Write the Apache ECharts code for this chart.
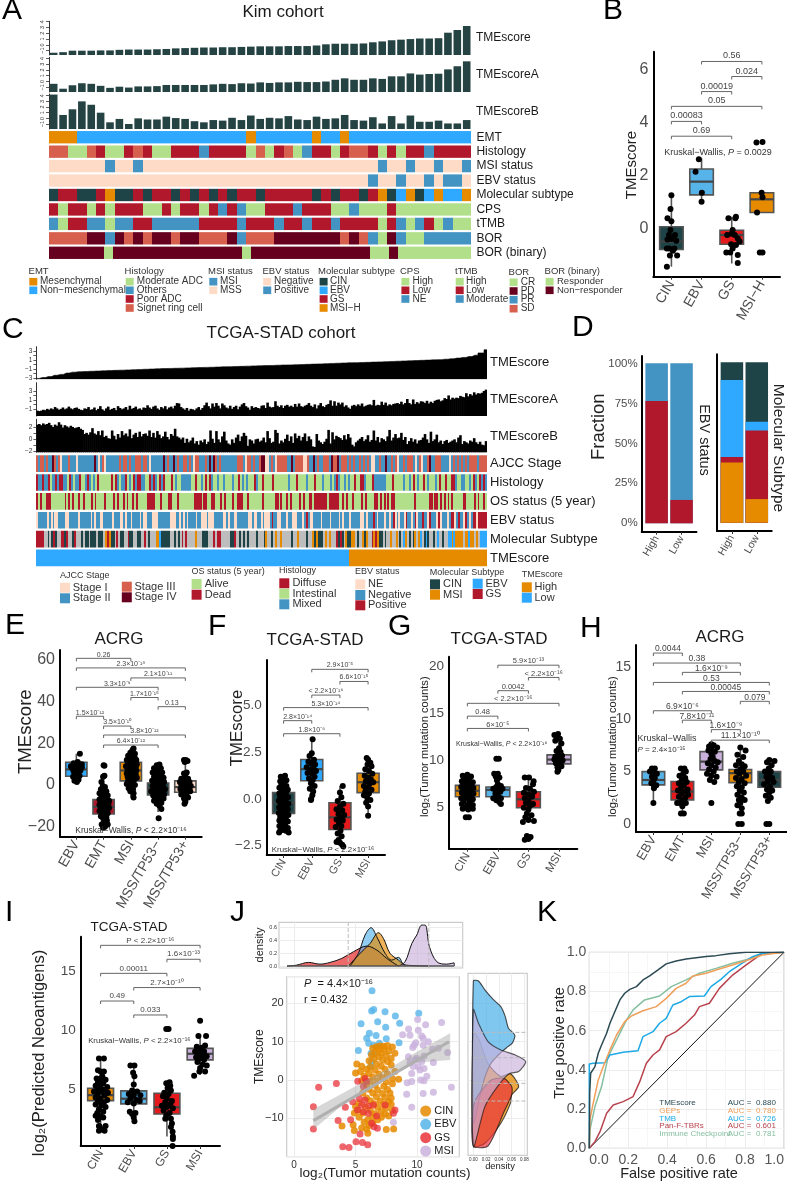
<!DOCTYPE html>
<html><head><meta charset="utf-8"><style>html,body{margin:0;padding:0;background:#fff}#c{width:787px;height:1184px}</style>
<script src="https://cdn.jsdelivr.net/npm/echarts@6/dist/echarts.min.js"></script></head><body><div id="c"></div>
<script>
// ---------- colours
const GREEN='#B2DF8A',RED='#B2182B',BLUE='#4393C3',SALMON='#D6604D',WINE='#67001F',PEACH='#FDDBC7',DARK='#1F4447',SKY='#2EA9FF',ORANGE='#E68A00',GRAY='#BDBDBD',LBLUE='#56B4E9',BRED='#E41A1C',LAV='#C9B1DC';
const FONT='"Liberation Sans",Arial,sans-serif';
// ---------- Panel A data
const kimScore=[-1.35,-1.25,-1,-1,-1,-.95,-.95,-.85,-.8,-.8,-.8,-.75,-.7,-.6,-.55,-.5,-.45,-.45,-.4,-.4,-.35,-.3,-.25,-.25,-.25,-.2,-.2,-.2,-.1,.1,.2,.2,.2,.25,.45,.6,.8,.9,1,1.1,1.1,1.15,2.1,2.56,3.25];
const kimA=[-.4,-1.25,-.65,-.3,-.4,-.75,-1.1,-.9,-1.05,-.85,-.85,-.8,-.6,-.6,-.6,-.6,-.6,-.5,-.4,-.45,-.3,-.35,-.15,-.25,-.15,-.15,-.05,-.1,-.1,0,.3,.55,.3,.3,.55,.45,.9,.9,1.4,1.2,1.3,1.35,2.1,2.65,3.5];
const kimB=[4.2,.6,1.6,3,2.4,1,-.7,-.1,-1,0,-.2,-.2,.3,.05,-.1,-.5,-.7,-.3,-.4,.1,-.3,.5,-.1,.1,0,.4,-.2,-.3,.3,-.1,0,.6,-.3,-.4,.2,-.9,.4,-.9,.5,-.6,-.6,-.4,-.9,-.9,-.3];
const kimEMT='MMMNNNNNNNNNNNNNNNNNNMNNNNNNMNNMNNNNNNNNNNNNN';
const kimHist='SSMMSPMMPSPMMPPPOPPPPMSMPSMOPPMPSSPMPMPPOPPPP';
const kimMSI='SSSSSSISSISSSSSSSSSSSSSSSSSSSSSSSSSISSISSISSI';
const kimEBV='NNNNNNNNNNNNNNNNNNNNNNNNNNNNNNNNNNPNNPNNPNPPN';
const kimMol='CGGCCGMCCGCGGCGCGCGCGGCGGGGGCGCGGCGMCEMCEMEEM';
const kimCPS='LHLLHLHLLLHHLHLLHLNLNHHLLLNLLLHHNHHHLHHHHHHHH';
const kimTMB='MHLLMMHMMLLMMMMMLLLLMLLLMLLMLLMLLLLHLMHMLHMHH';
const kimBOR='SSSSDDPDSDSDDSDDSSSDPSSSDDDDDDDSDSPCDPCCPPPPP';
const kimBin='NNNNNNRNNNNNNNNNNNNNNRNNNNNNNNNNNNNRRNRRRRRRRR';
// ---------- Panel C data
const tcgaScore=[-3.1,-2.9,-2.7,-2.4,-2.2,-1.9,-1.7,-1.6,-1.55,-1.5,-1.45,-1.4,-1.35,-1.3,-1.25,-1.2,-1.15,-1.1,-1.05,-1,-.95,-.9,-.87,-.83,-.8,-.75,-.7,-.67,-.63,-.6,-.55,-.5,-.47,-.43,-.4,-.35,-.3,-.27,-.23,-.2,-.15,-.1,-.07,-.03,0,.05,.1,.15,.2,.25,.3,.35,.4,.43,.47,.5,.55,.6,.65,.7,.75,.8,.85,.9,.95,1,1.05,1.1,1.2,1.3,1.45,1.6,1.8,2.1,2.6,3.3];
const tcgaA=[-1.4,-1.5,-1.4,-1.2,-1.3,-1.0,-1.2,-.9,-1.1,-.6,-.9,-1.2,-1.0,-.7,-1.1,-.9,-.5,-.9,-1.1,-.8,-.7,-1.0,-1.2,-1.3,-.9,-1.0,-.6,-1.2,-1.1,-.7,-1.3,-1.0,-.4,-1.1,-1.4,-.9,-.5,-1.2,-1.0,-.8,-1.3,-.4,-.8,-1.1,-.9,-.6,-1.2,-.3,-1.0,-.8,-.5,-1.1,-.9,-1.2,-.7,-.8,-.2,-.7,-1.0,-.5,-.3,-.9,-1.2,-.6,-.9,-.4,-1.1,-.7,-.5,-.9,-.3,.3,.2,-.6,-.9,-1.2,-.8,-1.4,-1.0,-1.1,-1.3,-.9,-.6,-1.2,-.8,-.2,.4,-.4,-.9,.2,-.5,.3,-.3,-.9,.2,-.2,-.7,-.9,-.3,-1.0,-.6,-.3,-1.1,-.5,0,.3,-.4,-.7,-1.2,-.4,-.8,-.6,-.8,-.9,-.3,-.2,-.8,.4,-.5,-.7,-.6,.7,-.3,-.6,-.2,-.8,-.3,-.1,-.5,-.3,-.6,.1,-.5,.2,-.4,-.6,-.3,-.1,.3,-.3,-.6,0,-.9,-.2,.3,-.4,-.6,-.1,.1,.9,-.3,.7,-.3,.4,0,.4,-.5,-.2,-.7,-1.0,-.3,-.1,-.4,0,-.3,.2,-.5,-.3,-.1,0,-.2,1.0,-.3,-.1,-.2,.6,-.1,.4,-.3,0,-.2,.1,.2,.3,.1,.6,0,.3,1.2,.3,0,1.1,.1,.5,.2,.7,.6,.3,.8,.2,.6,.3,.8,1.0,1.1,.7,.9,1.4,1.2,2.0,1.1,1.5,1.3,1.5,1.4,1.9,1.7,1.6,2.5,1.8,2.3,2.0,2.7,2.2,2.5,2.4,2.6,3.0,3.3];
const tcgaB=[2.5,2.6,2.4,2.7,2.5,2.6,2.8,2.4,2.1,2.5,2.3,2.9,2.5,2.0,2.4,2.2,2.0,2.3,2.1,1.9,2.0,2.1,1.8,1.6,.9,1.1,.8,1.2,1.9,1.0,.8,1.4,.7,1.5,.4,.6,.2,.1,1.5,.6,0,.9,.3,1.4,.7,1.0,.5,1.7,.2,.8,1.1,.4,1.3,.5,.9,1.0,.6,1.5,.4,1.1,.3,1.4,.8,.2,.5,1.3,.4,0,.9,.6,1.8,.5,.3,0,.3,-.6,.1,-.5,-.2,.3,-.7,-.3,-.9,-.2,-.5,0,-.8,-.4,1.5,.1,-.6,1.4,0,-.5,.5,1.3,-.2,-.7,-.9,0,-.6,.3,.8,-.3,.5,1.1,.6,-1.1,0,-.2,-.7,0,.1,-.4,-.2,.3,-.5,1.4,.2,-.6,-.4,1.6,1.1,-.7,-.2,-.5,.1,.8,-.3,.5,-.6,1.0,.2,.6,-.2,.4,1.0,-.3,.5,0,-1.2,-1.3,.9,-.2,-.5,-.8,-.4,.1,1.6,-.7,1.2,0,.6,.4,.2,-.1,.7,0,.9,.3,-.9,-1.2,-.5,-.2,.1,.4,-.3,0,.7,-.4,-.1,1.5,-.2,.4,-.5,.2,0,-.3,.5,1.6,-.2,.3,.9,.2,.3,1.1,-.1,.4,-.8,-.3,.2,-.4,0,-.7,-.2,-.1,.3,.9,0,-.6,1.3,-.3,0,.8,-.5,-.2,-.8,-.3,-.1,-.6,-.4,-.2,0,-.5,.3,.7,-.8,-.3,-.5,-.7,-.2,-.4,.2,-.5,-.8,-.4,-.9,-1.0,-.3];
const tcgaStage='cbccbcbbdcbcabbbcbbbabbbbbbbbdbabcabbbbbbcbccbcbbcccbccbabbbbbbdbcbbdbcbbc'+'cbcbaccbbbcbdbdcbcbbbbbbbbcccbaccbcbbcddaabcbacccccbbdbccccaacbbdbcbbcccbdcc'+'dbcccbcbcbbcbcbcbaabbcbbdbbcbcabbcbcccbabcabbcdbbcccbbbbabcbcbcbcbccccbcccc';
const tcgaHist='DXXDXXDIXDXDDXXIDXIXXDIIXDXIXIDIIIIIIDIDXIXXDIXIDXDDXXIIDXDXIDXDIIIDIXIIXX'+'XXXIIDIIXIDIDXIIXIIXIIIXIIDIXIXIIIDXIIDIIIIDIIIIIIIXIIIDIIIIXIIIDIIIXIIIXIX'+'DXIIXIXIIDIIDDXIIIDXXXXXXIIIDIIIIXIIXIDIXIIDIXIIIXIDIIDIIDDXIIXXIIXIDXIDXDX';
const tcgaOS='ZAZAAZZZAAAAAAAZAZAZAAZAAZAAAZAZAAAAZAAAAZAZAAZAZAAZAZAAAAAZZZZAAAZAAAZZAAAZAAAAA'+'AAAZZZZAZZAAZZAAAZAZAAAZAAZZZAAZAAAAAAAZAAAAAAZZAZAAZAZAAAAZAZAAZZAZZZZZZZAZZZ'+'ZZAAZAZAAZAAAAZAZAAAAZZAZAZAZAZZAAAAAAAAAAZAAAAAAAZZAZZAZAZAZAZAAAAAZZAAAAZAZAAZA';
const tcgaEBV='NGGGGGNGNGNNGGGGNNGGGGGNGGGGGGNGNGGNNGGGGGNGGGNNGNGGNGGGGNGNNGGGNNNGGGGGGGNNNGGNGNGN'+'GGGGNGGNNNGNNNGGGGGNNGNGGNNGGGGGGNNGNNGGNGNNNGPGGNNGGGNGGNNNGGGNGPGNNGGGGNGGGGNGGGGNG'+'NGGGNGGGGGNNGNGGGPGNGGGNGGNGPNGNGGNPGGNGPNGGPGGNPGGGNPNGGGNGPPNGPGGNPGNGPPNPPPPP';
const tcgaMol='GGGGXXCXCGCXXGGCGXXCGXXXCXCCXCCCXCCCXMGMCCXGXCCXXGCCXXCCXXGXCXXXMMECCCCCXXCXCX'+'GXGXXXXMXXXCCCXXXGXGGXXXXXCCGXXCXCXCXXXXCXXXCMXXCXMXXMXXXXXCXXMXXXXCXXMCMCCCXMXMXXXGC'+'GCXMCCMMXCXXMCMXXGMGMCCXCXXMXXMXCXEMXCXCMXMEXCECXXCXEXXCXXEEMEMMMMXMMEMMXMXEEEE';
const tcgaLowCount=156,tcgaHighCount=69;
// ---------- Panel B
const bCats=['CIN','EBV','GS','MSI−H'];
const bBoxes=[[-1.45,-.8,-.5,.06,1.25],[1.0,1.27,1.77,2.25,2.65],[-1.33,-.6,-.25,-.07,.44],[.6,.6,1.1,1.35,1.35]];
const bPoints=[[1,1.25],[.97,.73],[.87,.38],[1,.27],[.97,-.06],[.92,-.25],[1.12,-.25],[.87,-.42],[1.16,-.47],[1,-.4],[.93,-.76],[1.1,-.76],[.85,-.76],[.95,-1.03],[1.19,-1.03],[.85,-1.45],[1.05,-.85],[1.91,2.62],[1.8,2.14],[2.01,1.35],[2,1.01],[2.89,.38],[3.12,.38],[3.14,.44],[3.03,-.06],[2.85,-.25],[3,-.2],[3.1,-.25],[3.2,-.38],[3.26,-.5],[3.14,-.63],[2.98,-.6],[3.03,-.76],[2.95,-.91],[3.2,-1.01],[2.82,-.91],[3.2,-1.31],[3.82,3.25],[4.02,3.27],[3.99,1.35],[4.02,1.18],[3.84,.6],[3.93,-.91],[4.02,-.91]];
const bPairs=[[2,4,6.32],[3,4,5.75],[2,3,5.18],[1,4,4.62],[1,2,4.05],[1,3,3.49]];
const bPairLabels=['0.56','0.024','0.00019','0.05','0.00083','0.69'];
// ---------- Panel E
const eCats=['EBV','EMT','MSI','MSS/TP53−','MSS/TP53+'];
const eBoxes=[[1.5,4.2,7.5,10.9,15],[-20.5,-13.9,-10.5,-7,5],[-6,2,7,10.9,18],[-13,-4.8,-1.5,1,10],[-9,-3.5,-1,2,10]];
const ePoints=[[1.13,15],[.9,10.5],[1.05,11],[.95,9.5],[1.1,9],[1.2,8.5],[.85,8],[1,8],[1.15,7],[.9,6.5],[1.05,6],[.95,5],[1.12,4.5],[.88,4],[1,3.5],[1.08,2.5],[.93,2],[1.02,1.5],[1.2,10],[.8,9],[2,9.5],[2.03,9.3],[2.03,4.5],[1.98,4],[1.92,1.5],[1.97,-.5],[2.05,-1],[1.9,-2],[2.1,-3],[1.85,-4],[2,-4],[2.15,-5],[1.92,-5.5],[2.08,-6],[1.85,-7],[2,-7],[2.2,-7.5],[1.9,-8],[2.1,-8.5],[2.18,-9],[1.85,-9.5],[2,-10],[2.12,-10.5],[1.9,-11],[2.2,-11],[2.05,-12],[1.85,-12.5],[1.95,-13],[2.15,-13.5],[2.03,-14],[1.9,-15],[2.1,-15.5],[1.98,-16],[2.12,-17],[2,-18],[2.1,-18.5],[1.93,-19],[2.05,-20],[1.98,-20.5],[2.15,-19],[3.1,17.5],[3.05,16.5],[2.98,15.5],[3.15,15],[2.9,14],[3.05,14],[3,13],[3.15,12.8],[2.85,12],[3.2,12],[3,11.5],[3.1,11],[2.9,10.5],[3.22,10],[3,10],[3.12,9.5],[2.82,9],[2.95,8.8],[3.18,8.5],[3.05,8],[2.88,7.5],[3.2,7],[3,6.5],[3.12,6],[2.85,5.5],[2.95,5],[3.18,5],[3.05,4.5],[2.88,4],[3.22,3.5],[3,3],[3.12,2.5],[2.9,2],[3.05,1.5],[2.85,.5],[3.15,0],[3,-.5],[2.92,-1.5],[3.08,-2],[2.98,-3],[3.1,-4],[3.1,-6],[3.95,9.5],[4.05,9.8],[3.85,8],[4.1,8],[4,7],[3.8,6],[3.95,5.5],[4.15,6],[4.05,4.5],[3.85,4],[4.2,3.5],[3.95,3],[4.1,2.5],[3.78,2],[4,2],[4.22,1.5],[3.88,1],[4.08,.5],[3.98,0],[4.18,-.5],[3.8,-.5],[3.92,-1],[4.1,-1.5],[4.25,-2],[3.85,-2],[4,-2.5],[3.75,-3],[4.15,-3],[3.92,-4],[4.05,-4],[4.22,-4.5],[3.82,-5],[4,-5.5],[4.12,-5.5],[3.9,-6.5],[4.2,-6.5],[4.05,-7],[3.85,-7.5],[4,-8],[4.12,-8.5],[3.95,-9],[4.05,-10],[4.12,-11.5],[4.02,-16],[4.95,12],[5.02,12],[5.08,11.5],[4.98,11],[5.05,6],[4.95,5.5],[5,4],[4.85,3],[5.1,3],[5,2],[4.8,1.5],[5.15,1.5],[4.95,1],[5.08,.5],[4.85,0],[5.2,-.5],[5,-.5],[4.9,-1.5],[5.12,-1.5],[4.82,-2],[5,-2.5],[5.18,-3],[4.92,-3.5],[5.05,-4],[4.85,-4.5],[5,-5],[5.1,-6],[4.95,-6.5],[5,-8],[4.97,-9]];
const ePairs=[[1,3,60.8],[1,5,56.2],[3,5,51.4],[1,4,46.9],[3,4,42],[4,5,37.6],[1,2,33],[2,3,28.3],[2,5,24],[2,4,19.2]];
const ePairLabels=['0.26','2.3×10⁻¹⁸','2.1×10⁻¹¹','3.3×10⁻⁹','1.7×10⁻¹⁵','0.13','1.5×10⁻¹²','3.5×10⁻¹⁰','3.8×10⁻¹²','6.4×10⁻¹²'];
// ---------- Panel F
const fCats=['CIN','EBV','GS','MSI'];
const fBoxes=[[-1.8,-.77,-.2,.34,1.25],[0,.98,1.6,2.12,3.2],[-2.5,-1.63,-.98,-.2,.7],[-.9,.34,.9,1.38,2.2]];
const fPoints=[[.9,1.2],[1.05,1.25],[.95,1.1],[1.1,1],[.88,.95],[1,.9],[.92,.75],[1.1,.7],[.85,.6],[1.02,.55],[1.15,.5],[.93,.4],[.85,.3],[1.08,.3],[1,.2],[.88,.1],[1.16,.1],[.95,0],[1.07,-.05],[.83,-.1],[1,-.2],[1.17,-.25],[.9,-.3],[1.08,-.4],[.84,-.45],[.98,-.5],[1.15,-.55],[.9,-.65],[1.05,-.7],[.83,-.75],[.97,-.85],[1.17,-.85],[.88,-.95],[1.08,-1],[.98,-1.1],[.85,-1.15],[1.15,-1.2],[.92,-1.3],[1.05,-1.35],[.85,-1.45],[1,-1.5],[1.15,-1.55],[.88,-1.7],[.97,-1.65],[1.08,-1.7],[1.18,-1.8],[.84,-1.8],[2.03,3.2],[2,2.45],[1.92,2.3],[2.08,2.1],[1.88,2],[1.98,1.9],[2.12,1.85],[1.82,1.7],[2.05,1.7],[1.95,1.55],[2.15,1.5],[1.85,1.4],[2.02,1.35],[2.1,1.2],[1.9,1.1],[2.03,1],[1.97,.85],[2.1,.7],[1.93,.55],[2.05,.4],[2.02,.2],[1.98,0],[1.97,-.05],[3.1,.7],[3,.35],[3.05,.1],[2.92,-.1],[3.12,-.25],[3,-.4],[2.88,-.55],[3.08,-.6],[2.95,-.8],[3.15,-.85],[3.02,-1],[2.88,-1.1],[3.1,-1.15],[2.97,-1.3],[3.05,-1.45],[2.85,-1.5],[3.02,-1.7],[2.92,-1.85],[3.06,-2],[2.95,-2.2],[2.88,-2.3],[3,-2.35],[3.08,-2.45],[3.12,-2.55],[3.95,2.2],[4,2.1],[4.08,1.95],[3.98,1.85],[4.12,1.75],[3.9,1.6],[4.03,1.5],[4.15,1.35],[3.88,1.25],[4,1.15],[4.1,1.05],[3.92,.95],[4.18,.9],[4.05,.8],[3.85,.7],[3.98,.6],[4.12,.5],[3.9,.4],[4.03,.3],[3.85,.2],[3.97,.05],[4.08,-.05],[3.93,-.2],[4,-.4],[4,-.9]];
const fPairs=[[2,4,6.95],[3,4,6.3],[2,3,5.57],[1,4,4.9],[1,2,4.2],[1,3,3.5]];
const fPairLabels=['2.9×10⁻⁵','6.6×10⁻¹⁵','< 2.2×10⁻¹⁶','5.3×10⁻¹⁴','2.8×10⁻¹⁴','1.8×10⁻⁶'];
// ---------- Panel G
const gCats=['CIN','EBV','GS','MSI'];
const gBoxes=[[4.8,6.17,6.8,7.37,8.5],[5.3,6.17,6.9,7.2,8.6],[3.5,5,5.9,6.7,8.2],[8.9,9.65,10.1,10.6,12.8]];
const gPoints=[[.85,8.4],[1,8.5],[1.12,8.3],[.9,8.1],[1.05,8],[.82,7.8],[.97,7.8],[1.18,7.7],[.88,7.5],[1.08,7.4],[.8,7.2],[1,7.2],[1.2,7.1],[.9,6.9],[1.1,6.8],[.82,6.6],[1,6.6],[1.2,6.5],[.9,6.3],[1.1,6.2],[.8,6],[1,6],[1.18,5.9],[.88,5.7],[1.08,5.6],[.82,5.4],[1,5.3],[1.18,5.3],[.92,5],[1.1,5],[.85,4.9],[1.03,4.8],[1.18,4.9],[.95,4],[1.05,4],[1.95,10.2],[2.03,10.2],[1.88,8.6],[2,8.6],[1.93,8.3],[2.05,8.2],[1.97,7.9],[2,7.5],[1.95,7.2],[2.1,7.3],[2.15,7],[1.85,7],[2,6.9],[2.08,6.7],[1.92,6.5],[2,6.3],[1.85,6],[2.1,6],[1.95,5.8],[2.02,5.7],[2.1,5.4],[2.88,8.2],[3.02,8.2],[3.17,7.8],[3.15,7.5],[2.92,7.1],[3.05,7],[3.18,6.7],[2.85,6.6],[3,6.4],[3.12,6.2],[2.88,6],[3,5.8],[2.92,5.5],[3.15,5.4],[3.05,5.2],[2.85,5],[3,4.8],[2.95,4.4],[3.1,4.2],[2.9,4],[3,3.7],[2.82,3.5],[3.18,3.6],[2.95,2],[3.07,1.9],[2.88,1.6],[3,1.7],[3.97,12.8],[3.85,12.7],[3.95,12.4],[4.03,12.3],[3.88,12.1],[4.08,11.8],[4,11.3],[3.92,11],[4.05,10.9],[3.98,10.6],[4.1,10.5],[3.88,10.4],[4,10.3],[3.85,10.1],[3.95,10],[4.12,10],[4.05,9.8],[3.9,9.7],[4,9.5],[3.95,9.3],[4.08,9.4],[3.98,9],[3.95,8.8]];
const gPairs=[[2,4,20.1],[3,4,18.8],[2,3,17.4],[1,4,16.06],[1,2,14.7],[1,3,13.4]];
const gPairLabels=['5.9×10⁻¹³','< 2.2×10⁻¹⁶','0.0042','< 2.2×10⁻¹⁶','0.48','6×10⁻⁵'];
// ---------- Panel H
const hCats=['EBV','EMT','MSI','MSS/TP53−','MSS/TP53+'];
const hBoxes=[[2,3.73,4.2,5,5.3],[1,2.3,3.1,4.05,5.3],[4,5.16,5.95,6.9,7.6],[1.8,3.95,4.85,5.2,7.3],[2.2,3.5,4.2,5,6.1]];
const hPoints=[[.95,5.3],[1.05,5.3],[.88,5],[1,4.9],[1.12,4.8],[.95,4.5],[1.05,4.4],[1,4.1],[.93,3.9],[1.1,3.7],[1.02,3.4],[1,2],[1.02,3.7],[1.95,5.3],[2.07,5.3],[2.12,5],[2.03,4.8],[1.9,4.6],[2.1,4.4],[1.98,4.2],[2.15,4],[1.88,3.9],[2.05,3.7],[1.95,3.4],[2.18,3.3],[1.85,3.2],[2.08,3.1],[1.97,2.9],[2.2,2.8],[1.88,2.6],[2.1,2.5],[2,2.3],[1.92,2],[2.12,2],[1.82,2],[2,1.7],[1.95,1],[2.05,1],[3,7.6],[2.92,7.4],[3.08,7.5],[3.2,7.3],[3,7.1],[2.9,7],[3.12,6.9],[3,6.7],[3.05,6.4],[2.97,6.2],[3.12,6],[3.22,5.9],[2.88,5.8],[3,5.6],[3.15,5.4],[2.92,5.2],[3.08,5],[2.85,4.8],[3,4.6],[3.18,4.5],[2.95,4.2],[3.1,4],[3,2],[4,7.3],[4.18,7],[3.9,6.6],[4.1,6.4],[3.95,6],[4.05,5.7],[3.85,5.6],[4.15,5.5],[4,5.2],[3.88,5],[4.1,5],[3.97,4.8],[4.2,4.6],[3.85,4.4],[4.05,4.3],[3.95,4],[4.15,3.9],[3.88,3.6],[4.05,3.5],[3.98,3.2],[4.12,3],[3.9,2.8],[4.05,2.5],[3.95,2.3],[4.15,2.3],[4,2],[3.9,1.8],[4.05,1.5],[3.98,1],[4.05,1],[3.93,0],[4.05,0],[5,6.1],[5.18,6],[4.92,5.9],[5.08,5.6],[4.98,5.3],[4.85,5],[5.05,5],[5,4.7],[4.9,4.5],[5.1,4.4],[4.95,4.1],[5.15,4],[4.82,3.8],[5.02,3.6],[4.92,3.3],[5.1,3.2],[5,3],[4.88,2.7],[5.05,2.5],[4.95,2.2],[4.9,0],[5,0]];
const hPairs=[[1,2,16.3],[1,4,15.35],[2,4,14.46],[1,5,13.5],[2,5,12.64],[4,5,11.7],[1,3,10.8],[2,3,9.9],[3,4,9],[3,5,8]];
const hPairLabels=['0.0044','0.38','1.6×10⁻⁹','0.53','0.00045','0.079','6.9×10⁻⁶','7.8×10⁻¹¹','1.6×10⁻⁹','11.1×10⁻¹⁰'];
// ---------- Panel I
const iCats=['CIN','EBV','GS','MSI'];
const iBoxes=[[1.5,4.04,4.5,5.08,7.5],[2.3,3.76,4.2,4.86,7],[1,2.9,3.48,4.66,5.5],[6.2,7.48,8,8.46,9.5]];
const iPoints=[[.95,7.6],[1.1,7.6],[.92,6.6],[1,6.5],[1.1,6.5],[1.05,6.1],[.88,5.9],[1,5.9],[1.15,5.8],[.92,5.6],[1.08,5.5],[.85,5.3],[1,5.3],[1.2,5.2],[.92,5.05],[1.1,4.95],[.8,4.8],[1,4.8],[1.22,4.7],[.9,4.6],[1.12,4.5],[.85,4.3],[1,4.2],[1.2,4.1],[.92,3.95],[1.1,3.9],[.85,3.7],[1.02,3.6],[1.15,3.5],[.95,3.3],[1.08,3.1],[.9,3],[.85,2.75],[1,2.7],[1.08,2.6],[.92,2.4],[.97,1.85],[1.15,1.9],[1.05,1.6],[.95,1.5],[1.12,1.5],[.95,1.9],[1.9,7],[2.02,7],[1.98,6.4],[2.02,6.1],[2,5.4],[1.95,4.9],[2.1,4.8],[1.85,4.6],[2,4.5],[2.2,4.5],[1.9,4.2],[2.08,4.1],[2.18,4],[1.82,3.9],[2,3.8],[1.88,3.1],[1.95,2.9],[2.05,3],[2,2.6],[2.02,2.3],[2.98,10.1],[3.05,10.1],[3.08,5.6],[3.1,5.3],[2.98,5.5],[3.02,5.1],[3.12,4.9],[2.92,4.7],[3.05,4.6],[2.88,4.4],[3,4.2],[3.15,4],[2.95,3.9],[3.1,3.7],[2.85,3.6],[3,3.5],[3.18,3.4],[2.9,3.2],[3.08,3],[2.98,2.8],[3.12,2.5],[2.95,2.5],[3.15,2.1],[3.12,1.8],[3.17,1.4],[3.18,1],[3.18,.8],[3.17,.2],[4,10.8],[3.95,9.5],[4.18,9.5],[4.15,8.7],[3.9,8.6],[4.05,8.5],[4,8.3],[3.85,8.2],[4.12,8.2],[3.95,8],[4.05,7.9],[4.2,7.8],[3.88,7.7],[4,7.6],[4.12,7.5],[3.92,7.3],[4.08,7.1],[4.2,7],[4,6.8],[4.15,6.5],[3.98,6.5],[3.82,6.15]];
const iPairs=[[1,4,17.17],[3,4,15.99],[1,3,14.8],[2,4,13.6],[1,2,12.46],[2,3,11.28]];
const iPairLabels=['P < 2.2×10⁻¹⁶','1.6×10⁻¹³','0.00011','2.7×10⁻¹⁰','0.49','0.033'];
// ---------- Panel D
const dCats=['High','Low'];
const dEbvPositive=[76.5,14.6],dEbvNegative=[23.5,85.4];
const dMolMSI=[37.5,14.7],dMolGS=[3.5,42.8],dMolEBV=[48,5.5],dMolCIN=[11,37];
// ---------- Panel J
const jCIN=[[7.3,8.8],[7,8.9],[6.7,8.7],[7.6,9],[8,8.6],[6.4,8.3],[7.3,8],[6.9,7.9],[7.7,7.6],[6.6,7.2],[7.1,7],[8.2,7],[6.3,6.6],[7.5,6.4],[6.9,6.1],[7.9,5.6],[6.5,5.6],[7.2,5.2],[6.1,5],[7.6,4.8],[5.1,4.2],[5.5,3.6],[6.7,4.2],[7.1,3.6],[7.9,3.9],[6.2,3.3],[5.9,2.8],[6.6,2.6],[7.4,2.8],[5.4,2.2],[5,1.8],[6.1,1.7],[6.9,1.6],[7.6,1.6],[8.2,2.2],[5.7,1],[6.4,.8],[7.2,.6],[8,.4],[8.5,.2],[5.5,-.2],[6.2,-.4],[6.8,-.2],[7.5,-.5],[5.9,-1.3],[6.6,-1.4],[7.3,-1.6],[8,-1],[6.1,-2.4],[6.8,-2.6],[7.6,-2.5],[5.6,-3.3],[6.4,-3.4],[7.2,-3.5],[7.8,-3.4],[6.7,-4.4],[7.4,-4.6],[5.9,-4.7],[7.9,-4.7],[6.2,-5.4],[7,-5.5],[7.7,-5.7],[5.3,-6],[6.5,-6.2],[7.3,-6.4],[7.9,-6.3],[5,-6.9],[5.8,-7],[6.8,-7.1],[7.5,-7.3],[5.2,-7.9],[6.2,-7.9],[7.1,-8.1],[8,-7.9],[4.9,-8.6],[5.6,-8.6],[6.6,-8.8],[7.4,-8.9],[7.7,-9.4],[5.3,-9.7],[6.4,-9.6],[7.1,-9.7],[6,-10.3],[6.8,-10.4],[5.7,-11],[6.4,-11.2],[4.8,-11.7],[6.1,-11.9],[3.9,-12],[5.5,-12.5],[5.9,-12.8],[7.5,-12.9],[8.1,-12.8],[4.9,-13.2],[6,-13.9]];
const jEBV=[[6.34,23.3],[6.31,18],[6.48,18.4],[7.4,17.8],[8.24,16.7],[10.14,17.4],[5.45,14.7],[6.8,15.2],[8.59,14.8],[7.45,13.8],[5.91,10.9],[6.67,11.6],[6.12,12.2],[7.5,10.8],[6.07,9.6],[6.48,9.1],[6.94,9.6],[8.54,9.7],[5.23,7.7],[6.26,7],[6.5,6.8],[6.31,4.8],[6.23,3.5]];
const jGS=[[2,-1.9],[3.44,-.9],[1.57,-7],[1.57,-12.8],[4.17,-7.1],[3.58,-10.6],[4.6,-10.4],[4.77,-5.7],[5.18,-.3],[5.77,.4],[5.9,-.4],[5.64,-1.7],[5.31,-4.8],[5.77,-5.2],[5.5,-6.5],[6.04,-6.8],[6.45,-6.5],[5.64,-8.3],[6.04,-8.7],[6.72,-9.4],[6.31,-11.3],[6.78,-12.6],[5.37,-14.1],[5.04,-16.1],[5.56,-16.3],[5.99,-16.9],[3.96,-17.4],[4.47,-17.6],[8.08,-8.7],[8.21,-7.8],[7.4,-6.5],[5.15,-7.8],[6.5,-12.2]];
const jMSI=[[10.05,15.8],[12,15],[10.7,14.4],[9.32,13.3],[10.1,13],[8.83,11.8],[9.43,11.7],[10.38,11.5],[10.5,10.9],[10.92,10],[9.9,9.7],[9.76,9.1],[9.65,8.5],[10.5,9.1],[11.73,8.3],[11.27,8],[12.49,7.2],[9.3,6.1],[11.33,4.6],[10.57,6.3],[9.84,5.2],[9.43,4.5],[10.1,3.5],[10.57,3],[9.57,1.7],[10.8,1],[9.2,-.7],[9.57,-.4],[10.3,0],[10.57,-.2],[12.8,-1.9],[11.33,-3.2],[10.5,-3.5],[9.16,-3.7],[9.57,-7.1],[8.08,-11],[9.7,3.5],[10.24,2.6],[9.97,5.7],[10.38,4.8]];
const jFit=[[1.57,-10.6],[12.6,10]];
const jBand=[[1.57,-7.6],[4,-3.4],[6,.2],[8,3.5],[10,7.4],[12.7,12.2],[12.7,5.2],[10,4.6],[8,1.4],[6,-2.2],[4,-6.4],[1.57,-12.9]];
const densTopGS=[[-.57,0],[.22,.015],[1.17,.057],[2.11,.03],[2.93,.057],[3.88,.119],[4.82,.222],[5.91,.31],[6.72,.249],[7.53,.119],[8.48,0]];
const densTopEBV=[[4.55,0],[5.23,.197],[5.77,.482],[6.26,.596],[6.72,.456],[7.4,.197],[7.94,.093],[8.48,.135],[8.89,.03],[9.43,.01],[11.06,0]];
const densTopCIN=[[4.42,0],[5.23,.171],[6.18,.352],[6.86,.518],[7.26,.43],[7.8,.197],[8.48,.093],[9.02,0]];
const densTopMSI=[[8.48,0],[9.02,.067],[9.57,.352],[9.97,.482],[10.38,.637],[10.65,.637],[11,.3],[11.6,.067],[12.41,.03],[13,.05],[13.02,0]];
const densRightEBV=[[0,25.8],[.008,25.8],[.018,23.5],[.031,21],[.043,19.1],[.05,16.5],[.055,13.5],[.065,11.7],[.061,9.6],[.052,8.4],[.039,6.5],[.026,3.9],[.016,-.4],[.008,-6.1],[0,-11.3]];
const densRightMSI=[[0,18.3],[.008,14.8],[.023,10],[.043,7.8],[.066,6.5],[.082,4.8],[.071,2.2],[.056,1.6],[.038,-1.7],[.018,-7],[0,-17.4]];
const densRightCIN=[[0,12.2],[.008,10.9],[.023,4.3],[.043,.9],[.058,1.6],[.071,-1.7],[.06,-3.9],[.058,-6.1],[.043,-11.3],[.018,-16.5],[0,-17.2]];
const densRightGS=[[0,-7],[.008,-3.9],[.028,0],[.048,.4],[.06,-1.7],[.06,-3.9],[.048,-8.3],[.023,-17.2],[0,-17.2]];
const jDashX=[4.4,10.95],jDashY=[12.4,5.8,-.9,-5.5];
// ---------- Panel K
const rocScore=[[0,0],[.002,.281],[.007,.383],[.029,.417],[.046,.485],[.063,.527],[.089,.587],[.106,.638],[.131,.697],[.157,.757],[.182,.791],[.208,.811],[.242,.825],[.276,.859],[.31,.88],[.353,.91],[.395,.941],[.446,.956],[.497,.966],[.549,.972],[.6,.978],[.651,.983],[.719,.993],[.804,1],[1,1]];
const rocGEP=[[0,0],[.003,.145],[.02,.23],[.046,.349],[.072,.417],[.106,.502],[.14,.578],[.182,.646],[.216,.675],[.276,.702],[.344,.723],[.395,.765],[.446,.816],[.497,.842],[.532,.879],[.6,.893],[.668,.915],[.736,.935],[.804,.957],[.889,.986],[1,1]];
const rocTMB=[[0,0],[0,.43],[.02,.434],[.08,.437],[.106,.476],[.174,.49],[.25,.498],[.276,.57],[.327,.595],[.361,.638],[.395,.663],[.429,.731],[.472,.748],[.514,.774],[.591,.777],[.625,.825],[.676,.862],[.719,.901],[.77,.935],[.838,.978],[.889,.995],[1,1]];
const rocPan=[[0,0],[.029,.034],[.055,.085],[.089,.179],[.123,.221],[.174,.238],[.225,.264],[.259,.34],[.293,.434],[.327,.476],[.361,.502],[.395,.57],[.446,.595],[.497,.638],[.54,.68],[.566,.723],[.617,.74],[.668,.816],[.736,.884],[.804,.935],[.889,.995],[1,1]];
const rocICP=[[0,0],[.003,.094],[.029,.213],[.063,.315],[.097,.468],[.14,.553],[.191,.655],[.225,.706],[.284,.757],[.361,.777],[.421,.825],[.497,.859],[.566,.893],[.651,.918],[.736,.944],[.821,.966],[.889,.995],[1,1]];
const rocNames=['TMEscore','GEPs','TMB','Pan-F-TBRs','Immune Checkpoint'];
const rocAUC=['AUC =  0.880','AUC =  0.780','AUC =  0.726','AUC =  0.601','AUC =  0.781'];
const rocColors=['#2B4A54','#F0A05A','#1CA9E6','#B8434F','#85BFA0'];

// ---------- option scaffolding
const grid=[],xAxis=[],yAxis=[],series=[],gfx=[];
const ink='#4d4d4d';
function txt(t,x,y,size,o){o=o||{};gfx.push({type:'text',x,y,rotation:o.rot||0,silent:true,z:50,style:{text:t,x:0,y:0,align:o.align||'center',verticalAlign:'middle',fontSize:size,fontFamily:o.family||FONT,fill:o.fill||'#1a1a1a',fontStyle:o.italic?'italic':'normal',rich:o.rich}});}
function addGrid(l,t,r,b,extra){grid.push(Object.assign({left:l,top:t,width:r-l,height:b-t,containLabel:false},extra||{}));return grid.length-1;}
function track(p){
  const g=addGrid(p.rect[0],p.rect[1],p.rect[2],p.rect[3]);
  xAxis.push({type:'category',gridIndex:g,data:p.vals.map((_,i)=>i),show:false,boundaryGap:!p.solid});
  const m=p.min;
  yAxis.push({type:'value',gridIndex:g,min:0,max:p.max-m,splitLine:{show:false},
    axisLine:{show:true,lineStyle:{color:'#333',width:1}},
    axisTick:{show:true,length:3,lineStyle:{color:'#333',width:.8},customValues:p.ticks.map(t=>t-m)},
    axisLabel:{show:true,customValues:p.labels.map(t=>t-m),rotate:p.rotate||0,fontSize:p.font,margin:4,color:'#333',hideOverlap:false,formatter:v=>String(Math.round(v+m)).replace('-','−')}});
  const shifted=p.vals.map(v=>+(v-m).toFixed(3));
  if(p.solid) series.push({type:'line',xAxisIndex:g,yAxisIndex:g,data:shifted,step:'middle',symbol:'none',silent:true,lineStyle:{color:p.color,width:.6},areaStyle:{color:p.color,opacity:1}});
  else series.push({type:'bar',xAxisIndex:g,yAxisIndex:g,data:shifted,barWidth:p.barWidth,itemStyle:{color:p.color},silent:true});
}
function heat(p){
  const g=addGrid(p.rect[0],p.rect[1],p.rect[2],p.rect[3]);
  xAxis.push({type:'value',gridIndex:g,min:0,max:1,show:false});
  yAxis.push({type:'category',gridIndex:g,inverse:true,position:'right',data:p.rows.map(r=>r.name),
    axisLine:{show:false},axisTick:{show:false},axisLabel:{fontSize:p.font,color:'#1a1a1a',margin:p.margin,interval:0}});
  p.rows.forEach((r,ri)=>{
    const n=r.str.length,d=[];
    for(let i=0;i<n;i++)d.push([i/n,ri,(i+1)/n]);
    series.push({type:'custom',xAxisIndex:g,yAxisIndex:g,silent:true,data:d,renderItem(par,api){
      const a=api.coord([api.value(0),ri]),b=api.coord([api.value(2),ri]),h=api.size([0,1])[1]*p.ratio;
      const x0=Math.round(a[0]),x1=Math.round(b[0]);
      return {type:'rect',shape:{x:x0,y:a[1]-h/2,width:Math.max(x1-x0,1),height:h},style:{fill:r.pal[r.str[par.dataIndex]]}};
    }});
  });
}
function boxPanel(p){
  const [l,t,r,b]=p.rect,n=p.cats.length;
  const g=addGrid(l,t,r,b);
  const xs=p.cats.map((_,i)=>i+1);
  xAxis.push({type:'value',gridIndex:g,min:.4,max:n+.6,splitLine:{show:false},axisLine:{onZero:false,lineStyle:{color:'#000',width:2}},
    axisTick:{show:true,length:3,lineStyle:{color:'#333'},customValues:xs},
    axisLabel:{customValues:xs,rotate:60,fontSize:p.fontX,color:ink,margin:5,hideOverlap:false,formatter:v=>p.cats[Math.round(v)-1]}});
  yAxis.push({type:'value',gridIndex:g,min:p.yMin,max:p.yMax,splitLine:{show:false},axisLine:{onZero:false,show:true,lineStyle:{color:'#000',width:2}},
    axisTick:{show:false,customValues:p.ticks},
    axisLabel:{customValues:p.ticks,fontSize:p.fontY,color:ink,margin:5,hideOverlap:false,formatter:v=>(p.fixed?v.toFixed(1):String(v)).replace('-','−')}});
  series.push({type:'custom',xAxisIndex:g,yAxisIndex:g,silent:true,z:2,data:p.boxes.map((q,i)=>[i+1,q[0],q[1],q[2],q[3],q[4]]),renderItem(par,api){
    const x=api.value(0),w=api.size([.78,0])[0]/2,P=k=>api.coord([x,api.value(k)]);
    const lo=P(1),q1=P(2),m=P(3),q3=P(4),hi=P(5),st={stroke:'#555',lineWidth:1.6,fill:null};
    return {type:'group',children:[
      {type:'line',shape:{x1:lo[0],y1:lo[1],x2:lo[0],y2:hi[1]},style:st},
      {type:'rect',shape:{x:lo[0]-w,y:q3[1],width:2*w,height:q1[1]-q3[1]},style:{stroke:'#555',lineWidth:1.6,fill:p.colors[par.dataIndex]}},
      {type:'line',shape:{x1:lo[0]-w,y1:m[1],x2:lo[0]+w,y2:m[1]},style:{stroke:'#444',lineWidth:2.2}}]};
  }});
  series.push({type:'scatter',xAxisIndex:g,yAxisIndex:g,silent:true,z:3,data:p.points,symbolSize:p.ptSize,itemStyle:{color:'#000',opacity:1}});
  series.push({type:'custom',xAxisIndex:g,yAxisIndex:g,silent:true,z:4,data:p.pairs,renderItem(par,api){
    const a=api.coord([api.value(0),api.value(2)]),c=api.coord([api.value(1),api.value(2)]);
    const lab=p.pairLabels[par.dataIndex];
    return {type:'group',children:[
      {type:'polyline',shape:{points:[[a[0],a[1]+3],a,[c[0],a[1]],[c[0],a[1]+3]]},style:{stroke:'#555',lineWidth:.9,fill:null}},
      {type:'text',style:{text:lab,x:(a[0]+c[0])/2,y:a[1]-p.labOff,align:'center',verticalAlign:'middle',fontSize:p.labFont,fontFamily:FONT,fill:'#444'}}]};
  }});
}
// ---------- Panel A
track({rect:[49,21.3,471.4,55],vals:kimScore,min:-1.74,max:4.06,ticks:[-1,0,1,2,3,4],labels:[-1,0,1,2,3,4],rotate:90,font:5.5,color:'#264344',barWidth:7.6});
track({rect:[49,57.3,471.4,92],vals:kimA,min:-1.82,max:4.2,ticks:[-1,0,1,2,3,4],labels:[-1,0,1,2,3,4],rotate:90,font:5.5,color:'#264344',barWidth:7.6});
track({rect:[49,94,471.4,129],vals:kimB,min:-1.88,max:4.3,ticks:[-1,0,1,2,3,4],labels:[-1,0,1,2,3,4],rotate:90,font:5.5,color:'#264344',barWidth:7.6});
heat({rect:[49,130,471.4,260],font:12,margin:5,ratio:.855,rows:[
 {name:'EMT',str:kimEMT,pal:{M:ORANGE,N:SKY}},
 {name:'Histology',str:kimHist,pal:{M:GREEN,O:BLUE,P:RED,S:SALMON}},
 {name:'MSI status',str:kimMSI,pal:{I:BLUE,S:PEACH}},
 {name:'EBV status',str:kimEBV,pal:{N:PEACH,P:BLUE}},
 {name:'Molecular subtype',str:kimMol,pal:{C:DARK,E:SKY,G:RED,M:ORANGE}},
 {name:'CPS',str:kimCPS,pal:{H:GREEN,L:RED,N:BLUE}},
 {name:'tTMB',str:kimTMB,pal:{H:GREEN,L:RED,M:BLUE}},
 {name:'BOR',str:kimBOR,pal:{C:GREEN,D:WINE,P:BLUE,S:SALMON}},
 {name:'BOR (binary)',str:kimBin,pal:{R:GREEN,N:WINE}}]});
txt('TMEscore',476,37.7,12,{align:'left'});txt('TMEscoreA',476,74.7,12,{align:'left'});txt('TMEscoreB',476,111.7,12,{align:'left'});
// ---------- Panel C
track({rect:[36.4,346.7,487,379.3],vals:tcgaScore,min:-3.3,max:4,ticks:[-3,-2,-1,0,1,2,3],labels:[-3,-1,1,3],font:6.5,color:'#000',solid:true});
track({rect:[36.4,382.7,487,416],vals:tcgaA,min:-2.6,max:4.85,ticks:[-2,-1,0,1,2,3,4],labels:[-2,-1,1,3,4],font:6.5,color:'#000',barWidth:2.6});
track({rect:[36.4,419.3,487,452.3],vals:tcgaB,min:-2.2,max:3.4,ticks:[-2,-1,0,1,2,3],labels:[-2,0,2,3],font:6.5,color:'#000',barWidth:2.6});
heat({rect:[36.4,454.2,487,567.4],font:13,margin:3,ratio:.885,rows:[
 {name:'AJCC Stage',str:tcgaStage,pal:{a:PEACH,b:BLUE,c:SALMON,d:WINE}},
 {name:'Histology',str:tcgaHist,pal:{D:RED,I:GREEN,X:BLUE}},
 {name:'OS status (5 year)',str:tcgaOS,pal:{A:GREEN,Z:RED}},
 {name:'EBV status',str:tcgaEBV,pal:{N:PEACH,G:BLUE,P:RED}},
 {name:'Molecular Subtype',str:tcgaMol,pal:{C:DARK,E:SKY,G:RED,M:ORANGE,X:GRAY}},
 {name:'TMEscore',str:'L'.repeat(tcgaLowCount)+'H'.repeat(tcgaHighCount),pal:{L:SKY,H:ORANGE}}]});
txt('TMEscore',490,362.7,13,{align:'left'});txt('TMEscoreA',490,399.3,13,{align:'left'});txt('TMEscoreB',490,436,13,{align:'left'});
// ---------- legends
function legendBlock(title,tx,ty,sx,lx,items,ys,tf,lf,sw,sh){
  if(title)txt(title,tx,ty,tf,{align:'left',fill:'#333'});
  items.forEach((it,i)=>{gfx.push({type:'rect',silent:true,z:50,shape:{x:sx,y:ys[i]-sh/2,width:sw,height:sh},style:{fill:it[1]}});txt(it[0],lx,ys[i],lf,{align:'left',fill:'#333'});});
}
const aY=[281.7,290.3,299,308],aY2=[282.3,291,299.7,308.7];
legendBlock('EMT',28.6,271,29.3,40,[['Mesenchymal',ORANGE],['Non−mesenchymal',SKY]],aY,9.5,10,8,7.6);
legendBlock('Histology',124.6,271,125.7,136.8,[['Moderate ADC',GREEN],['Others',BLUE],['Poor ADC',RED],['Signet ring cell',SALMON]],aY,9.5,10,8,7.6);
legendBlock('MSI status',208,271,209.3,220,[['MSI',BLUE],['MSS',PEACH]],aY,9.5,10,8,7.6);
legendBlock('EBV status',262.5,271,263.2,274,[['Negative',PEACH],['Positive',BLUE]],aY,9.5,10,8,7.6);
legendBlock('Molecular subtype',318,271,319.6,330,[['CIN',DARK],['EBV',SKY],['GS',RED],['MSI−H',ORANGE]],aY,9.5,10,8,7.6);
legendBlock('CPS',400,271,401.4,412.5,[['High',GREEN],['Low',RED],['NE',BLUE]],aY,9.5,10,8,7.6);
legendBlock('tTMB',455,271,455.7,466,[['High',GREEN],['Low',RED],['Moderate',BLUE]],aY,9.5,10,8,7.6);
legendBlock('BOR',508.6,272,509.6,520.7,[['CR',GREEN],['PD',WINE],['PR',BLUE],['SD',SALMON]],aY2,9.5,10,8,7.6);
legendBlock('BOR (binary)',544.6,271,545.6,557,[['Responder',GREEN],['Non−responder',WINE]],aY,9.5,9.5,8,7.6);
legendBlock('AJCC Stage',60,575.3,60,72.7,[['Stage I',PEACH],['Stage II',BLUE]],[587.7,598.3],9,11,10,10);
legendBlock('',0,0,121.8,134.5,[['Stage III',SALMON],['Stage IV',WINE]],[586.7,597.3],9,11,10,10);
legendBlock('OS status (5 year)',191.6,572,191.6,204.7,[['Alive',GREEN],['Dead',RED]],[584,594.7],9,11,10,10);
legendBlock('Histology',279,571,279.3,292.4,[['Diffuse',RED],['Intestinal',GREEN],['Mixed',BLUE]],[583.3,593.7,604.3],9,11,10,10);
legendBlock('EBV status',355,572,355.3,368,[['NE',PEACH],['Negative',BLUE],['Positive',RED]],[584.3,595,605.3],9,11,10,10);
legendBlock('Molecular Subtype',429.8,572.3,430,443,[['CIN',DARK],['MSI',ORANGE]],[584.3,594.7],9,11,10,10);
legendBlock('',0,0,472.7,485.5,[['EBV',SKY],['GS',RED]],[583.7,594],9,11,10,10);
legendBlock('TMEscore',521.8,575,521.8,534.5,[['High',ORANGE],['Low',SKY]],[587.3,597.7],9,11,10,10);
// ---------- Panels B, E–I
boxPanel({rect:[653.3,51.7,780,276.7],cats:bCats,yMin:-1.83,yMax:6.69,ticks:[0,2,4,6],boxes:bBoxes,colors:[DARK,LBLUE,BRED,ORANGE],points:bPoints,pairs:bPairs,pairLabels:bPairLabels,fontX:14,fontY:16,ptSize:6,labOff:5.5,labFont:9});
boxPanel({rect:[60,650,201.7,836.7],cats:eCats,yMin:-24.8,yMax:64.8,ticks:[-20,0,20,40,60],boxes:eBoxes,colors:[SKY,RED,ORANGE,DARK,PEACH],points:ePoints,pairs:ePairs,pairLabels:ePairLabels,fontX:14,fontY:16,ptSize:6,labOff:3.5,labFont:7});
boxPanel({rect:[266.7,660,385,855],cats:fCats,yMin:-3,yMax:7.45,ticks:[-2.5,0,2.5,5],fixed:true,boxes:fBoxes,colors:[DARK,SKY,BRED,ORANGE],points:fPoints,pairs:fPairs,pairLabels:fPairLabels,fontX:11,fontY:13.5,ptSize:6,labOff:4,labFont:7});
boxPanel({rect:[449,656.7,577.3,848.7],cats:gCats,yMin:.66,yMax:21,ticks:[5,10,15,20],boxes:gBoxes,colors:[ORANGE,LBLUE,BRED,LAV],points:gPoints,pairs:gPairs,pairLabels:gPairLabels,fontX:11.5,fontY:13.5,ptSize:6,labOff:4,labFont:7.5});
boxPanel({rect:[636,645,786.7,832],cats:hCats,yMin:-.76,yMax:17.07,ticks:[0,5,10,15],boxes:hBoxes,colors:[LBLUE,BRED,LAV,ORANGE,DARK],points:hPoints,pairs:hPairs,pairLabels:hPairLabels,fontX:13,fontY:14,ptSize:6,labOff:4,labFont:8.5});
boxPanel({rect:[80.7,936.7,220,1146],cats:iCats,yMin:.2,yMax:17.9,ticks:[5,10,15],boxes:iBoxes,colors:[ORANGE,LBLUE,BRED,LAV],points:iPoints,pairs:iPairs,pairLabels:iPairLabels,fontX:12,fontY:13.5,ptSize:6,labOff:5,labFont:8});
function kw(t,x,y,size,rich){txt(t,x,y,size,{fill:'#333',rich:{i:{fontStyle:'italic',fontSize:size,fontFamily:FONT,fill:'#333'}},align:rich||'center'});}
kw('Kruskal−Wallis, {i|P} = 0.0029',718,152.7,9);
kw('Kruskal−Wallis, {i|P} < 2.2×10⁻¹⁶',131,830.7,8.5);
kw('Kruskal−Wallis, {i|P} < 2.2×10⁻¹⁶',323,850,7.8);
kw('Kruskal−Wallis, {i|P} < 2.2×10⁻¹⁶',501.7,744,7);
kw('Kruskal−Wallis',637.5,738.3,9,'left');
kw('{i|P} = 2.4×10⁻¹⁵',637.5,749.3,8,'left');
kw('Kruskal−Wallis, {i|P} < 2.2×10⁻¹⁶',139.3,1040.7,7.8);
// ---------- Panel D: layers painted top-down, each bar reaching its cumulative height
function stacked(rect,yMin,yMax,layers,showY){
  const g=addGrid(rect[0],rect[1],rect[2],rect[3]);
  xAxis.push({type:'value',gridIndex:g,min:.4,max:2.6,splitLine:{show:false},axisLine:{onZero:false,lineStyle:{color:'#000',width:2}},
    axisTick:{show:true,length:3,lineStyle:{color:'#333'},customValues:[1,2]},
    axisLabel:{customValues:[1,2],rotate:60,fontSize:10.5,color:ink,margin:5,hideOverlap:false,formatter:v=>dCats[Math.round(v)-1]}});
  yAxis.push({type:'value',gridIndex:g,min:yMin,max:yMax,splitLine:{show:false},axisLine:{onZero:false,show:true,lineStyle:{color:'#000',width:2}},
    axisTick:{show:false,customValues:[0,25,50,75,100]},
    axisLabel:{show:showY,customValues:[0,25,50,75,100],fontSize:11.5,color:ink,margin:4,hideOverlap:false,formatter:v=>v+'%'}});
  const cum=[0,0],tops=layers.map(l=>{const c=l[0].map((v,i)=>cum[i]+=v);return [c,l[1]];});
  tops.reverse().forEach(l=>series.push({type:'bar',xAxisIndex:g,yAxisIndex:g,barGap:'-100%',barWidth:22.5,silent:true,data:l[0].map((v,i)=>[i+1,v]),itemStyle:{color:l[1]}}));
}
stacked([641.7,356,696.5,531.7],-5.25,104.6,[[dEbvPositive,RED],[dEbvNegative,BLUE]],true);
stacked([717,354.3,771.7,531],-5.2,105,[[dMolMSI,ORANGE],[dMolGS,RED],[dMolEBV,SKY],[dMolCIN,DARK]],false);
// ---------- Panel J
const gridLine={show:true,lineStyle:{color:'#ececec',width:1}};
const minorLine={show:true,lineStyle:{color:'#f4f4f4',width:.8}};
const frame={show:true,borderColor:'#cccccc',borderWidth:1.2,backgroundColor:'#fff'};
const gTop=addGrid(279,922.3,462.7,968,frame);
xAxis.push({type:'value',gridIndex:gTop,min:-1.22,max:13.7,splitLine:gridLine,axisLine:{show:false},axisTick:{show:false,customValues:[0,5,10]},axisLabel:{show:false,customValues:[0,5,10]}});
yAxis.push({type:'value',gridIndex:gTop,min:-.03,max:.68,splitLine:gridLine,axisLine:{show:false},axisTick:{show:false,customValues:[0,.2,.4,.6]},axisLabel:{customValues:[0,.2,.4,.6],fontSize:5.5,color:'#333',margin:2,hideOverlap:false,formatter:v=>v.toFixed(1)}});
[[densTopGS,BRED],[densTopEBV,LBLUE],[densTopCIN,ORANGE],[densTopMSI,LAV]].forEach(d=>series.push({type:'line',xAxisIndex:gTop,yAxisIndex:gTop,data:d[0],smooth:.35,symbol:'none',silent:true,lineStyle:{color:'#111',width:1},areaStyle:{color:d[1],opacity:.65}}));
series.push({type:'line',xAxisIndex:gTop,yAxisIndex:gTop,data:[[-.57,0],[13,0]],symbol:'none',silent:true,lineStyle:{color:'#555',width:1.6}});
jDashX.forEach(x=>series.push({type:'line',xAxisIndex:gTop,yAxisIndex:gTop,data:[[x,-.03],[x,.68]],symbol:'none',silent:true,lineStyle:{color:'#bbb',width:1,type:'dashed'}}));
const gMain=addGrid(286.7,976.6,459.3,1156.6,frame);
xAxis.push({type:'value',gridIndex:gMain,min:-.6,max:13.44,splitLine:gridLine,axisLine:{show:false},axisTick:{show:false,customValues:[0,5,10]},axisLabel:{customValues:[0,5,10],fontSize:10,color:'#333',margin:4,hideOverlap:false}});
yAxis.push({type:'value',gridIndex:gMain,min:-20,max:27,interval:10,splitLine:gridLine,axisLine:{show:false},axisTick:{show:false},axisLabel:{fontSize:11,color:'#333',margin:3,showMaxLabel:false,formatter:v=>v===-20||v===27?'':String(v).replace('-','−')}});
[[jEBV,LBLUE,.8],[jMSI,LAV,.8],[jCIN,ORANGE,.85],[jGS,'#E8333A',.75]].forEach((d,i)=>series.push({type:'scatter',xAxisIndex:gMain,yAxisIndex:gMain,data:d[0],symbolSize:7,silent:true,z:2+i,itemStyle:{color:d[1],opacity:d[2]}}));
function poly(g,pts,fill,stroke,lw,smooth,op,z){series.push({type:'custom',xAxisIndex:g,yAxisIndex:g,silent:true,z,data:pts,renderItem(par,api){
  if(par.dataIndex!==0)return null;
  return {type:'polygon',shape:{points:pts.map(q=>api.coord(q)),smooth},style:{fill,stroke,lineWidth:lw,opacity:op}};}});}
poly(gMain,jBand,'#9a9a9a',null,0,0,.4,8);
series.push({type:'line',xAxisIndex:gMain,yAxisIndex:gMain,data:jFit,symbol:'none',silent:true,z:9,lineStyle:{color:'#b0b0b0',width:3}});
const gRight=addGrid(468,973.3,527.3,1155.3,frame);
xAxis.push({type:'value',gridIndex:gRight,min:-.0084,max:.0845,splitLine:gridLine,axisLine:{show:false},axisTick:{show:false,customValues:[0,.02,.04,.06,.08]},axisLabel:{customValues:[0,.02,.04,.06,.08],fontSize:4.5,color:'#333',margin:2,hideOverlap:false,formatter:v=>v.toFixed(2)}});
yAxis.push({type:'value',gridIndex:gRight,min:-19.65,max:27.8,splitLine:gridLine,axisLine:{show:false},axisTick:{show:false,customValues:[-10,0,10,20]},axisLabel:{show:false,customValues:[-10,0,10,20]}});
poly(gRight,densRightCIN,ORANGE,'#111',1.1,.25,.75,2);
poly(gRight,densRightEBV,LBLUE,'#111',1.1,.25,.75,3);
poly(gRight,densRightGS,'#E8333A','#111',1.1,.25,.7,4);
poly(gRight,densRightMSI,LAV,'#111',1.1,.25,.65,5);
jDashY.forEach(y=>series.push({type:'line',xAxisIndex:gRight,yAxisIndex:gRight,z:6,data:[[0,y],[.0845,y]],symbol:'none',silent:true,lineStyle:{color:'#bbb',width:1,type:'dashed'}}));
txt('{i|P}  = 4.4×10⁻¹⁶',304,984.3,11,{align:'left',rich:{i:{fontStyle:'italic',fontSize:11,fontFamily:FONT,fill:'#1a1a1a'}}});
txt('r = 0.432',304,1000,11,{align:'left'});
[['CIN',ORANGE,1111],['EBV',LBLUE,1124.3],['GS','#E8333A',1137.7],['MSI',LAV,1151]].forEach(e=>{gfx.push({type:'circle',silent:true,z:50,shape:{cx:425.7,cy:e[2],r:5.5},style:{fill:e[1],opacity:.85}});txt(e[0],434.3,e[2],11,{align:'left'});});
// ---------- Panel K
const gK=addGrid(589.3,952.3,785,1148.3,frame);
xAxis.push({type:'value',gridIndex:gK,min:0,max:1,interval:.2,splitLine:gridLine,minorTick:{show:false,splitNumber:2},minorSplitLine:minorLine,axisLine:{show:false},axisTick:{show:false},axisLabel:{fontSize:14,color:'#555',margin:5,alignMinLabel:'left',alignMaxLabel:'right',formatter:v=>v.toFixed(1)}});
yAxis.push({type:'value',gridIndex:gK,min:0,max:1,interval:.2,splitLine:gridLine,minorTick:{show:false,splitNumber:2},minorSplitLine:minorLine,axisLine:{show:false},axisTick:{show:false},axisLabel:{fontSize:14,color:'#555',margin:3,formatter:v=>v.toFixed(1)}});
series.push({type:'line',xAxisIndex:gK,yAxisIndex:gK,data:[[0,0],[1,1]],symbol:'none',silent:true,lineStyle:{color:'#111',width:1}});
[rocICP,rocPan,rocTMB,rocGEP,rocScore].forEach((d,i)=>series.push({type:'line',xAxisIndex:gK,yAxisIndex:gK,data:d,symbol:'none',silent:true,step:false,lineStyle:{color:rocColors[4-i],width:1.5}}));
rocNames.forEach((n,i)=>{const y=[1102.7,1110.3,1118.3,1126,1134][i];txt(n,659.3,y,8,{align:'left',fill:rocColors[i]});txt(rocAUC[i],727.7,y,8,{align:'left',fill:rocColors[i]});});
// ---------- titles, axis names, panel letters
txt('Kim cohort',283,12.3,17);
txt('TCGA-STAD cohort',281,333.3,17);
txt('ACRG',119,639,17);txt('TCGA-STAD',315,640,17);txt('TCGA-STAD',499,639,17);txt('ACRG',720,637,17);txt('TCGA-STAD',129,927,13.5);
const R=Math.PI/2;
txt('TMEscore',631.7,165,15,{rot:R,fill:'#222'});
txt('TMEscore',26,731.7,18.6,{rot:R,fill:'#222'});
txt('TMEscore',237.7,728,16.8,{rot:R,fill:'#222'});
txt('log₂(Tumor mutation counts)',425,746.7,11.2,{rot:R,fill:'#222'});
txt('log₂(Tumor mutation counts)',612.7,746.7,11.2,{rot:R,fill:'#222'});
txt('log₂(Predicted Neoantigens)',39,1053,16.5,{rot:R,fill:'#222'});
txt('Fraction',599.3,426.7,18.4,{rot:R,fill:'#222'});
txt('EBV status',704,440,14.5,{rot:-R,fill:'#222'});
txt('Molecular Subtype',778,448,15.5,{rot:-R,fill:'#222'});
txt('density',260,945,11,{rot:R,fill:'#222'});
txt('TMEscore',260,1056.7,12,{rot:R,fill:'#222'});
txt('log₂(Tumor mutation counts)',385,1173.3,13.6,{fill:'#222'});
txt('density',500,1166.7,9.4,{fill:'#222'});
txt('True positive rate',560,1043,14.5,{rot:R,fill:'#222'});
txt('False positive rate',679,1174,14.5,{fill:'#222'});
[['A',2,11],['B',603,11],['C',2,330],['D',572,328],['E',5,626],['F',208,627],['G',388,627],['H',580,629],['I',5,913],['J',230,913],['K',537,913]].forEach(l=>txt(l[0],l[1],l[2],30,{align:'left',fill:'#000'}));

const chart=echarts.init(document.getElementById('c'),null,{renderer:'canvas'});
chart.setOption({animation:false,backgroundColor:'#fff',textStyle:{fontFamily:FONT},tooltip:{show:false},grid,xAxis,yAxis,series,graphic:{elements:gfx}});
</script></body></html>
